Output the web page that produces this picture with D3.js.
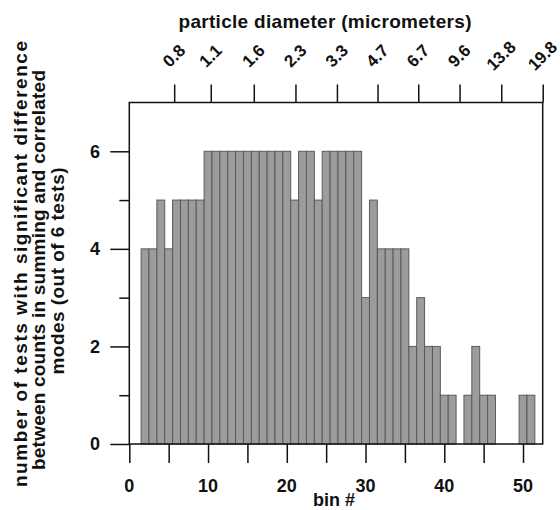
<!DOCTYPE html>
<html>
<head>
<meta charset="utf-8">
<script src="https://cdn.jsdelivr.net/npm/d3@7"></script>
<style>
  body { margin: 0; background: #fff; }
  svg { display: block; }
  text { font-family: "Liberation Sans", Arial, Helvetica, sans-serif; font-weight: bold; fill: #111; }
</style>
</head>
<body>
<svg id="chart" width="560" height="510"></svg>
<script>
// ---- data ----
const bins   = [2,3,4,5,6,7,8,9,10,11,12,13,14,15,16,17,18,19,20,21,22,23,24,25,26,27,28,29,30,31,32,33,34,35,36,37,38,39,40,41,42,43,44,45,46,47,48,49,50,51];
const counts = [4,4,5,4,5,5,5,5,6,6,6,6,6,6,6,6,6,6,6,5,6,6,5,6,6,6,6,6,3,5,4,4,4,4,2,3,2,2,1,1,0,1,2,1,1,0,0,0,1,1];
const xTicks = [0,5,10,15,20,25,30,35,40,45,50];
const xTickLabels = [0,10,20,30,40,50];
const yTicks = [0,1,2,3,4,5,6];
const yTickLabels = [0,2,4,6];
const diamTicks = [0.8,1.1,1.6,2.3,3.3,4.7,6.7,9.6,13.8,19.8];
const yTitleLines = ["number of tests with significant difference",
                     "between counts in summing and correlated",
                     "modes (out of 6 tests)"];

// ---- layout ----
const svg = d3.select("#chart");
const L = 129.3, R = 542.7, T = 102.5, B = 444;
const x = d3.scaleLinear().domain([0, 52.5]).range([L, R]);
const y = d3.scaleLinear().domain([0, 7]).range([B, T]);
const xd = d3.scaleLog().domain([0.8, 19.8]).range([x(5.7), x(52.5)]);

// bars
svg.append("g").selectAll("rect").data(bins.map((b,i)=>({b, v:counts[i]})))
  .join("rect")
  .attr("x", d => x(d.b - 0.5))
  .attr("width", d => x(d.b + 0.5) - x(d.b - 0.5))
  .attr("y", d => y(d.v))
  .attr("height", d => y(0) - y(d.v))
  .attr("fill", "#9c9c9c")
  .attr("stroke", d => d.v === 0 ? "#111" : "#5a5a5a")
  .attr("stroke-width", d => d.v === 0 ? 1.6 : 1);

// frame
svg.append("rect").attr("x", L).attr("y", T).attr("width", R-L).attr("height", B-T)
  .attr("fill", "none").attr("stroke", "#111").attr("stroke-width", 1.5);

// bottom axis
const gx = svg.append("g").attr("transform", `translate(0,${B})`)
  .call(d3.axisBottom(x).tickValues(xTicks).tickSize(19).tickFormat(""));
gx.select(".domain").remove();
gx.selectAll("line").attr("stroke", "#111").attr("stroke-width", 1.5);
svg.append("g").selectAll("text").data(xTickLabels).join("text")
  .attr("x", d => x(d)).attr("y", 491.5)
  .attr("text-anchor", "middle").attr("font-size", 18).text(d => d);

// left axis
const gy = svg.append("g").attr("transform", `translate(${L},0)`)
  .call(d3.axisLeft(y).tickValues(yTicks).tickSize(19).tickFormat(""));
gy.select(".domain").remove();
gy.selectAll(".tick line").attr("stroke", "#111").attr("stroke-width", 1.5)
  .attr("x2", d => d % 2 === 0 ? -19 : -10);
svg.append("g").selectAll("text").data(yTickLabels).join("text")
  .attr("x", 100).attr("y", d => y(d)).attr("dy", "0.36em")
  .attr("text-anchor", "end").attr("font-size", 18).text(d => d);

// top axis (particle diameter, log)
const gt = svg.append("g").attr("transform", `translate(0,${T})`)
  .call(d3.axisTop(xd).tickValues(diamTicks).tickSize(18).tickFormat(""));
gt.select(".domain").remove();
gt.selectAll("line").attr("stroke", "#111").attr("stroke-width", 1.5);
svg.append("g").selectAll("text").data(diamTicks).join("text")
  .attr("transform", d => `translate(${xd(d)},56) rotate(-45)`)
  .attr("text-anchor", "middle").attr("dominant-baseline", "central")
  .attr("font-size", 17).text(d => d);

// titles
svg.append("text").attr("x", 325).attr("y", 27.5).attr("text-anchor", "middle")
  .attr("font-size", 19).attr("textLength", 293).attr("lengthAdjust", "spacing")
  .text("particle diameter (micrometers)");
svg.append("text").attr("x", 334).attr("y", 506).attr("text-anchor", "middle")
  .attr("font-size", 18).text("bin #");
const yTitleCenter = [264, 270, 271];
const yTitleLen = [446, 400, 207];
yTitleLines.forEach((t, i) => {
  svg.append("text")
    .attr("transform", `translate(${27 + i*18.3},${yTitleCenter[i]}) rotate(-90)`)
    .attr("text-anchor", "middle").attr("font-size", 19)
    .attr("textLength", yTitleLen[i]).attr("lengthAdjust", "spacing")
    .text(t);
});
</script>
</body>
</html>
